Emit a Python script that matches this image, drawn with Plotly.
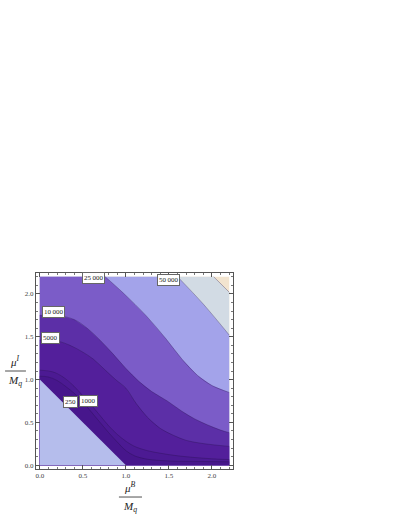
import plotly.graph_objects as go

# ---- data ----
levels = [250, 1000, 5000, 10000, 25000, 50000, 100000]
band_colors = ["#47168c", "#4c1a93", "#531f9b", "#5c2fa7", "#7b5cc8", "#a3a3ea", "#d2dbe4", "#f2e4cf"]
threshold_color = "#b5bdec"

c250_x = [0.0, 0.10, 0.20, 0.30, 0.40, 0.50, 0.60, 0.70, 0.80, 0.90, 1.00, 1.10, 1.25, 1.50, 1.80, 2.20]
c250_y = [1.04, 1.03, 0.99, 0.92, 0.84, 0.74, 0.62, 0.50, 0.38, 0.27, 0.17, 0.11, 0.07, 0.05, 0.045, 0.04]

c1000_x = [0.0, 0.15, 0.27, 0.40, 0.50, 0.60, 0.70, 0.80, 0.90, 1.00, 1.10, 1.25, 1.40, 1.60, 1.80, 2.00, 2.20]
c1000_y = [1.11, 1.09, 1.03, 0.92, 0.81, 0.70, 0.58, 0.46, 0.36, 0.28, 0.22, 0.17, 0.14, 0.11, 0.09, 0.075, 0.066]

c5000_x = [0.0, 0.20, 0.35, 0.50, 0.62, 0.75, 0.88, 1.00, 1.12, 1.25, 1.40, 1.55, 1.70, 1.85, 2.00, 2.20]
c5000_y = [1.46, 1.45, 1.40, 1.32, 1.24, 1.12, 1.00, 0.90, 0.72, 0.56, 0.43, 0.35, 0.29, 0.26, 0.24, 0.22]

c10000_x = [0.0, 0.25, 0.40, 0.55, 0.70, 0.85, 1.00, 1.15, 1.30, 1.48, 1.65, 1.80, 1.95, 2.10, 2.20]
c10000_y = [1.75, 1.74, 1.70, 1.60, 1.46, 1.30, 1.13, 0.98, 0.86, 0.75, 0.63, 0.54, 0.47, 0.41, 0.38]

c25000_x = [0.76, 0.97, 1.24, 1.47, 1.65, 1.83, 2.00, 2.20]
c25000_y = [2.20, 2.01, 1.74, 1.47, 1.24, 1.05, 0.93, 0.85]

c50000_x = [1.60, 1.90, 2.20]
c50000_y = [2.20, 1.88, 1.52]

c100000_x = [2.02, 2.20]
c100000_y = [2.20, 2.02]

contours_x = [c250_x, c1000_x, c5000_x, c10000_x, c25000_x, c50000_x, c100000_x]
contours_y = [c250_y, c1000_y, c5000_y, c10000_y, c25000_y, c50000_y, c100000_y]

label_text = ["25\u2009000", "50\u2009000", "10\u2009000", "5000", "250", "1000"]
label_x = [0.62, 1.50, 0.16, 0.13, 0.36, 0.57]
label_y = [2.185, 2.16, 1.79, 1.49, 0.74, 0.75]

tick_vals = [0.0, 0.5, 1.0, 1.5, 2.0]
tick_text = ["0.0", "0.5", "1.0", "1.5", "2.0"]
XMAX = 2.2
YMAX = 2.2

fig = go.Figure()

# top band as background
fig.add_trace(go.Scatter(x=[0, XMAX, XMAX, 0], y=[0, 0, YMAX, YMAX], fill="toself",
                         fillcolor=band_colors[-1], mode="none", hoverinfo="skip", showlegend=False))

# fill each region below contour k, from highest to lowest level
for k in range(len(levels) - 1, -1, -1):
    xs = list(contours_x[k]) + [XMAX, 0]
    ys = list(contours_y[k]) + [0, 0]
    if contours_y[k][0] >= YMAX and contours_x[k][0] > 0:
        xs.append(0)
        ys.append(YMAX)
    fig.add_trace(go.Scatter(x=xs, y=ys, fill="toself", fillcolor=band_colors[k],
                             mode="none", hoverinfo="skip", showlegend=False))

# threshold region (x + y < 1)
fig.add_trace(go.Scatter(x=[0, 1, 0], y=[0, 0, 1], fill="toself", fillcolor=threshold_color,
                         mode="none", hoverinfo="skip", showlegend=False))

# contour lines
for k in range(len(levels)):
    fig.add_trace(go.Scatter(x=contours_x[k], y=contours_y[k], mode="lines",
                             line=dict(color="rgba(35,15,70,0.45)", width=0.7, shape="spline"),
                             hoverinfo="skip", showlegend=False))

# contour labels
for t, lx, ly in zip(label_text, label_x, label_y):
    fig.add_annotation(x=lx, y=ly, text=t, showarrow=False,
                       font=dict(family="Liberation Serif", size=7, color="#222"),
                       bgcolor="white", bordercolor="#666", borderwidth=1, borderpad=1)

axis_common = dict(range=[-0.044, 2.244], showgrid=False, zeroline=False,
                   showline=True, linecolor="#555", linewidth=1, mirror="allticks",
                   ticks="inside", ticklen=4, tickcolor="#555", tickwidth=0.8,
                   tickvals=tick_vals, ticktext=tick_text,
                   tickfont=dict(family="Liberation Serif", size=7, color="#444"),
                   minor=dict(ticks="inside", ticklen=2, tickcolor="#777", dtick=0.1, tick0=0))
fig.update_xaxes(**axis_common)
fig.update_yaxes(**axis_common)

# axis labels as fractions
lab_font = dict(family="Liberation Serif", size=11, color="#222")
fig.add_annotation(xref="paper", yref="paper", x=-0.107, y=0.505, text="<i>μ</i><sup><i>I</i></sup>",
                   showarrow=False, font=lab_font, xanchor="center", yanchor="bottom")
fig.add_annotation(xref="paper", yref="paper", x=-0.107, y=0.495, text="<i>M</i><sub><i>q</i></sub>",
                   showarrow=False, font=lab_font, xanchor="center", yanchor="top")
fig.add_shape(type="line", xref="paper", yref="paper", x0=-0.157, x1=-0.051, y0=0.5, y1=0.5,
              line=dict(color="#222", width=0.8))

fig.add_annotation(xref="paper", yref="paper", x=0.477, y=-0.138, text="<i>μ</i><sup><i>B</i></sup>",
                   showarrow=False, font=lab_font, xanchor="center", yanchor="bottom")
fig.add_annotation(xref="paper", yref="paper", x=0.477, y=-0.148, text="<i>M</i><sub><i>q</i></sub>",
                   showarrow=False, font=lab_font, xanchor="center", yanchor="top")
fig.add_shape(type="line", xref="paper", yref="paper", x0=0.421, x1=0.538, y0=-0.143, y1=-0.143,
              line=dict(color="#222", width=0.8))

fig.update_layout(width=398, height=515, margin=dict(l=36, r=165, t=273, b=46, autoexpand=False),
                  plot_bgcolor="white", paper_bgcolor="white")

fig.write_html("out.html", config={"displayModeBar": False},
               post_script="document.body.style.margin='0';document.body.style.overflow='hidden';")
